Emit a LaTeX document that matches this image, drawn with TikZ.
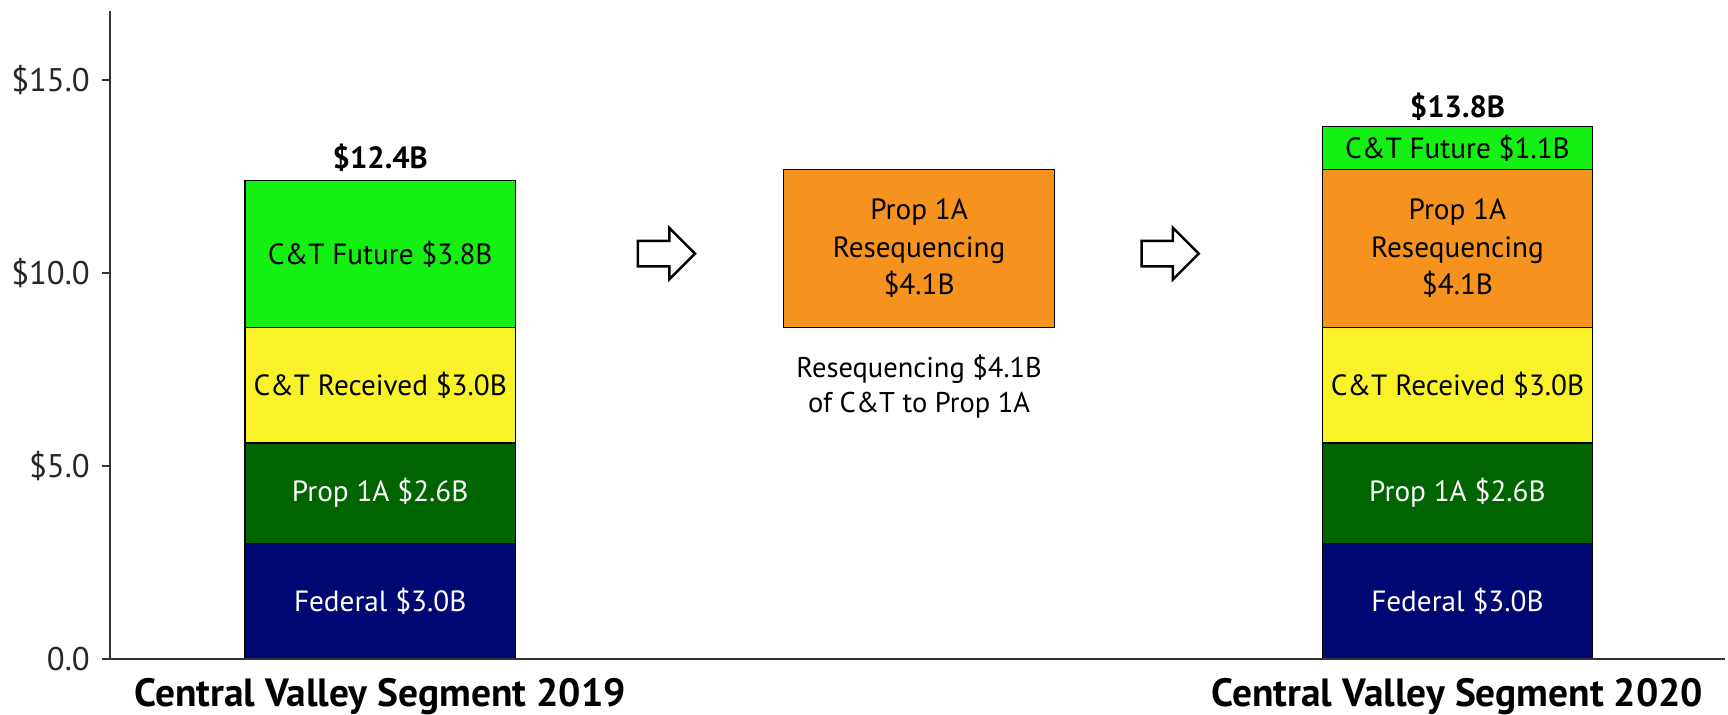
\documentclass[tikz,border=0pt]{standalone}
\usepackage{fontspec}
\setmainfont{PT Sans}
\usetikzlibrary{shapes.arrows}

\definecolor{fedblue}{RGB}{0,8,115}
\definecolor{propgreen}{RGB}{0,100,0}
\definecolor{ctyellow}{RGB}{250,242,40}
\definecolor{ctgreen}{RGB}{20,240,20}
\definecolor{reseqorange}{RGB}{246,146,30}

\begin{document}
\begin{tikzpicture}[
  x=0.022cm, y=0.77cm,
  font=\fontsize{16.6}{21.5}\selectfont,
  segment/.style={
    draw=black, line width=0.7pt, inner sep=0pt, outer sep=0pt,
    align=center, minimum width=5.4cm
  },
  total/.style={font=\fontsize{17.4}{20}\selectfont\bfseries},
  category/.style={font=\fontsize{22.4}{26}\selectfont\bfseries},
  ticklabel/.style={anchor=east, font=\fontsize{18.6}{21}\selectfont, text=black!85},
  axis/.style={draw=black!80, line width=1.2pt},
  flow/.style={
    single arrow, draw=black, line width=1.4pt, fill=white,
    minimum height=1.14cm, single arrow head extend=0.26cm,
    inner xsep=0pt, inner ysep=0.23cm
  },
  note/.style={align=center, font=\fontsize{16.2}{20}\selectfont}
]
  \useasboundingbox (0,-1.4286) rectangle (1568,17.0857);

  % Stacked bars (2019, resequencing, 2020)
  \foreach \nom/\x/\a/\b/\couleur/\ink/\texte in {
    fedA/345/0/3.0/fedblue/white/{Federal \$3.0B},
    propA/345/3.0/5.6/propgreen/white/{Prop 1A \$2.6B},
    recA/345/5.6/8.6/ctyellow/black/{C\&T Received \$3.0B},
    futA/345/8.6/12.4/ctgreen/black/{C\&T Future \$3.8B},
    reseq/834/8.6/12.7/reseqorange/black/{Prop 1A\\Resequencing\\\$4.1B},
    fedB/1322.5/0/3.0/fedblue/white/{Federal \$3.0B},
    propB/1322.5/3.0/5.6/propgreen/white/{Prop 1A \$2.6B},
    recB/1322.5/5.6/8.6/ctyellow/black/{C\&T Received \$3.0B},
    reseqB/1322.5/8.6/12.7/reseqorange/black/{Prop 1A\\Resequencing\\\$4.1B},
    futB/1322.5/12.7/13.8/ctgreen/black/{C\&T Future \$1.1B}} {
    \node[segment, fill=\couleur, text=\ink, minimum height={(\b-\a)*0.77cm}]
      (\nom) at (\x,{(\a+\b)/2}) {\texte};
  }

  % Totals and labels
  \node[total] (totalA) at (345,13.0) {\$12.4B};
  \node[total] (totalB) at (1322.5,14.31) {\$13.8B};
  \node[note] (reseqnote) at (834,7.06) {Resequencing \$4.1B\\of C\&T to Prop 1A};
  \node[category] (catA) at (345,-0.97) {Central Valley Segment 2019};
  \node[category] (catB) at (1322.5,-0.97) {Central Valley Segment 2020};

  % Arrows
  \node[flow] (arrowA) at (599,10.51) {};
  \node[flow] (arrowB) at (1056,10.51) {};

  % Axes
  \draw[axis] (100,16.8) -- (100,0);
  \draw[axis] (93,0) -- (1565,0);
  \foreach \v/\lab in {0/0.0, 5/\$5.0, 10/\$10.0, 15/\$15.0} {
    \draw[axis] (93,\v) -- (100,\v);
    \node[ticklabel] (tick\v) at (87,\v) {\lab};
  }
\end{tikzpicture}
\end{document}
